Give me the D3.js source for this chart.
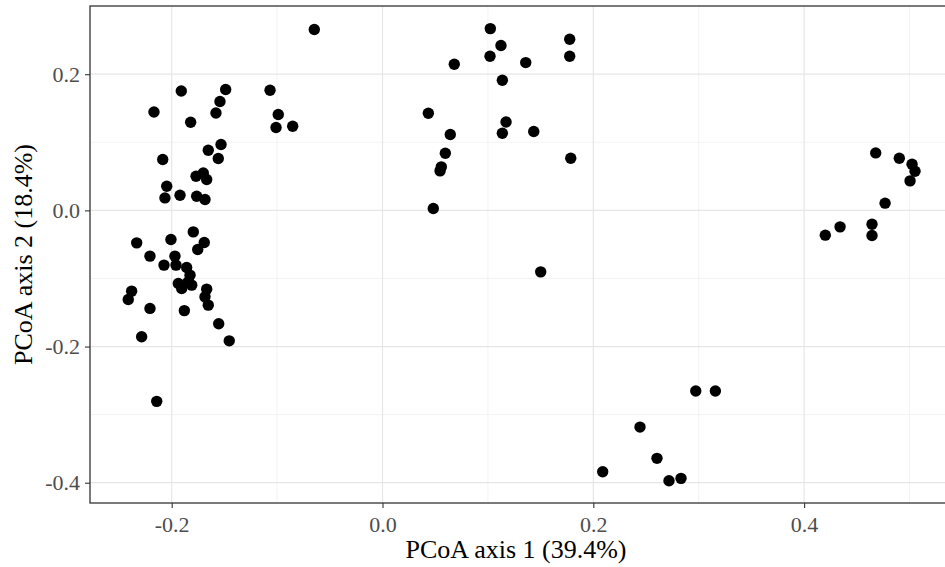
<!DOCTYPE html>
<html>
<head>
<meta charset="utf-8">
<script src="https://d3js.org/d3.v7.min.js"></script>
<style>
  body { margin: 0; background: white; }
  text { font-family: "Liberation Serif", "Times New Roman", serif; }
</style>
</head>
<body>
<svg id="pcoaSvg" width="945" height="567"></svg>
<script>
// PCoA site scores (axis 1, axis 2)
const axis1 = [
  -0.0647, -0.1909, -0.1488, -0.1542, -0.1580, -0.2168, -0.1820, -0.1067, -0.0989, -0.1010,
  -0.0852, -0.1532, -0.1653, -0.1558, -0.2085, -0.1769, -0.1700, -0.1668, -0.2047, -0.2064,
  -0.1921, -0.1763, -0.1684, -0.1795, -0.2332, -0.2007, -0.1691, -0.1753, -0.2206, -0.1969,
  -0.2073, -0.1959, -0.1858, -0.1826, -0.1843, -0.1937, -0.1905, -0.1810, -0.2380, -0.2412,
  -0.1668, -0.1684, -0.1653, -0.2206, -0.1880, -0.1554, -0.1454, -0.2285, -0.2142,
  0.1023, 0.1124, 0.1020, 0.0681, 0.1359, 0.1776, 0.1776, 0.1137, 0.0435, 0.1172,
  0.1137, 0.1435, 0.0643, 0.0596, 0.0558, 0.0546, 0.1786, 0.0482, 0.1501,
  0.2972, 0.3158, 0.2443, 0.2604, 0.2089, 0.2718, 0.2832,
  0.4679, 0.4903, 0.5024, 0.5052, 0.5005, 0.4768, 0.4341, 0.4201, 0.4644, 0.4644
];
const axis2 = [
  0.2656, 0.1754, 0.1775, 0.1599, 0.1431, 0.1446, 0.1295, 0.1765, 0.1408, 0.1217,
  0.1236, 0.0967, 0.0884, 0.0762, 0.0747, 0.0502, 0.0550, 0.0454, 0.0355, 0.0183,
  0.0223, 0.0208, 0.0160, -0.0316, -0.0477, -0.0427, -0.0471, -0.0574, -0.0672, -0.0672,
  -0.0804, -0.0804, -0.0838, -0.0951, -0.1050, -0.1073, -0.1147, -0.1098, -0.1186, -0.1308,
  -0.1157, -0.1270, -0.1392, -0.1440, -0.1472, -0.1666, -0.1916, -0.1857, -0.2805,
  0.2670, 0.2421, 0.2264, 0.2146, 0.2171, 0.2513, 0.2264, 0.1911, 0.1427, 0.1299,
  0.1133, 0.1158, 0.1114, 0.0840, 0.0639, 0.0580, 0.0766, 0.0028, -0.0903,
  -0.2654, -0.2654, -0.3183, -0.3642, -0.3839, -0.3971, -0.3936,
  0.0844, 0.0766, 0.0678, 0.0575, 0.0433, 0.0106, -0.0242, -0.0364, -0.0203, -0.0368
];

const xTicks = [-0.2, 0.0, 0.2, 0.4];
const xMinorTicks = [-0.1, 0.1, 0.3, 0.5];
const yTicks = [-0.4, -0.2, 0.0, 0.2];
const yMinorTicks = [-0.3, -0.1, 0.1];
const xTitle = "PCoA axis 1 (39.4%)";
const yTitle = "PCoA axis 2 (18.4%)";

const svg = d3.select("#pcoaSvg");
let pLeft = 90, pRight = 946, pTop = 6, pBottom = 503;

let xScale = d3.scaleLinear().domain([-0.2775, 0.5346]).range([pLeft, pRight]);
let yScale = d3.scaleLinear().domain([-0.4298, 0.3002]).range([pBottom, pTop]);

// plain hyphen like R prints it, not the unicode minus
let tickFmt = function (d) { return d.toFixed(1); };

function drawGrid() {
  let g = svg.append("g");
  // minor lines first, thinner
  g.selectAll(".xminor").data(xMinorTicks).enter().append("line")
    .attr("x1", d => xScale(d)).attr("x2", d => xScale(d))
    .attr("y1", pTop).attr("y2", pBottom)
    .style("stroke", "#ebebeb").style("stroke-width", 0.6);
  g.selectAll(".yminor").data(yMinorTicks).enter().append("line")
    .attr("x1", pLeft).attr("x2", pRight)
    .attr("y1", d => yScale(d)).attr("y2", d => yScale(d))
    .style("stroke", "#ebebeb").style("stroke-width", 0.6);
  g.selectAll(".xmajor").data(xTicks).enter().append("line")
    .attr("x1", d => xScale(d)).attr("x2", d => xScale(d))
    .attr("y1", pTop).attr("y2", pBottom)
    .style("stroke", "#e6e6e6").style("stroke-width", 1.2);
  g.selectAll(".ymajor").data(yTicks).enter().append("line")
    .attr("x1", pLeft).attr("x2", pRight)
    .attr("y1", d => yScale(d)).attr("y2", d => yScale(d))
    .style("stroke", "#e6e6e6").style("stroke-width", 1.2);
}

function drawPoints() {
  let pts = d3.zip(axis1, axis2);
  svg.append("g").selectAll("circle")
    .data(pts)
    .enter().append("circle")
    .attr("cx", d => xScale(d[0]))
    .attr("cy", d => yScale(d[1]))
    .attr("r", 5.7)
    .style("fill", "black");
}

function drawAxes() {
  let xAxis = svg.append("g")
    .attr("transform", "translate(0," + pBottom + ")")
    .call(d3.axisBottom(xScale).tickValues(xTicks).tickFormat(tickFmt).tickSize(5).tickPadding(8));
  let yAxis = svg.append("g")
    .attr("transform", "translate(" + pLeft + ",0)")
    .call(d3.axisLeft(yScale).tickValues(yTicks).tickFormat(tickFmt).tickSize(5).tickPadding(5));
  [xAxis, yAxis].forEach(a => {
    a.select(".domain").remove();
    a.selectAll(".tick line").style("stroke", "#333333").style("stroke-width", 1.1);
    a.selectAll(".tick text")
      .style("font-family", "'Liberation Serif', serif")
      .style("font-size", "22px")
      .style("fill", "#4d4d4d");
  });

  // panel border
  svg.append("rect")
    .attr("x", pLeft).attr("y", pTop)
    .attr("width", pRight - pLeft).attr("height", pBottom - pTop)
    .style("fill", "none").style("stroke", "#333333").style("stroke-width", 1.3);

  svg.append("text")
    .attr("x", 516)
    .attr("y", 558)
    .attr("text-anchor", "middle")
    .style("font-size", "26px")
    .style("fill", "black")
    .text(xTitle);

  svg.append("text")
    .attr("transform", "translate(32," + (pTop + pBottom) / 2 + ") rotate(-90)")
    .attr("text-anchor", "middle")
    .style("font-size", "26px")
    .style("fill", "black")
    .text(yTitle);
}

drawGrid();
drawPoints();
drawAxes();
</script>
</body>
</html>
